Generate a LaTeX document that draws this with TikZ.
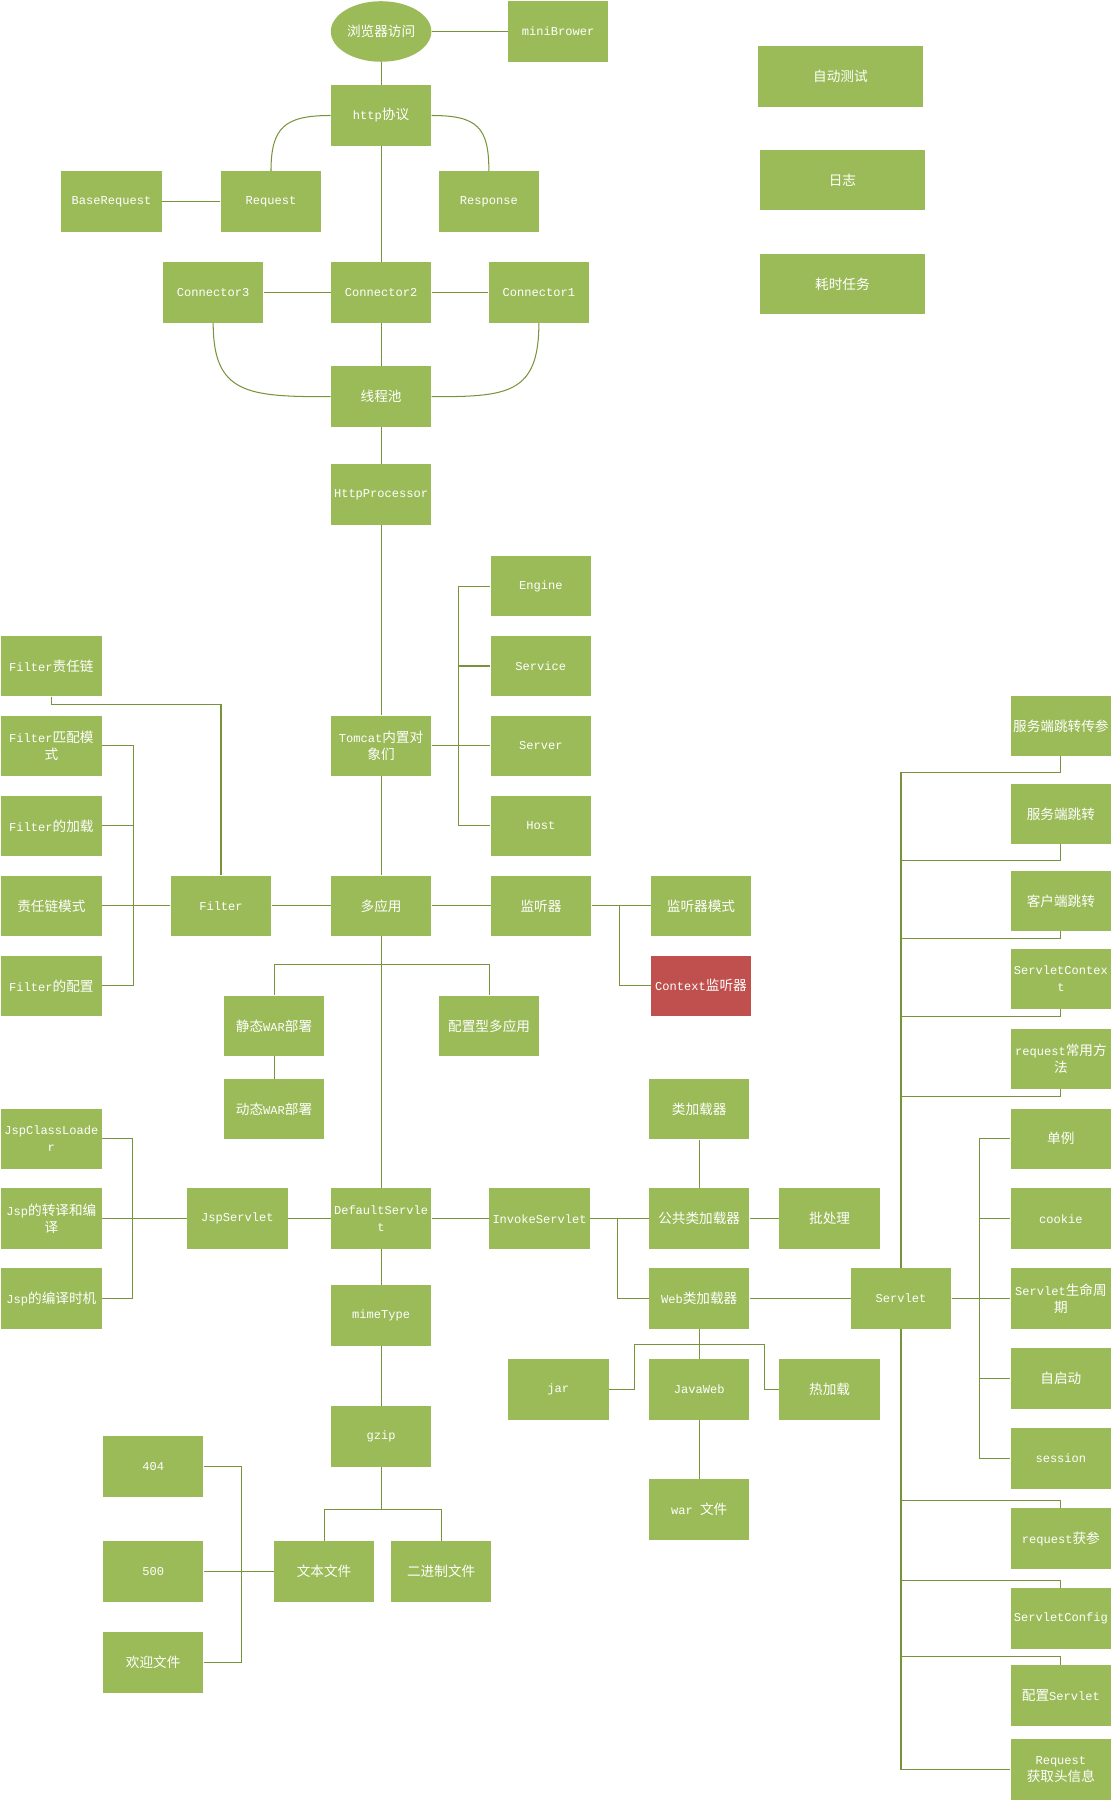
\documentclass[tikz,border=0pt]{standalone}
\usepackage{fontspec}
\setmainfont{Liberation Mono}
\newfontfamily\zhfont[Scale=1.13]{Noto Sans CJK SC}
\newcommand{\zh}[1]{{\zhfont #1}}
\usepackage{tikz}
\usetikzlibrary{shapes.geometric}
\definecolor{boxgreen}{HTML}{9BBB59}
\definecolor{boxred}{HTML}{C0504D}
\definecolor{linkgreen}{HTML}{77933C}

\begin{document}
\begin{tikzpicture}[x=1pt, y=-1pt,
        box/.style={rectangle, fill=boxgreen, text=white, minimum width=87.5pt, minimum height=52.7pt,
                inner sep=0pt, align=center, font=\fontsize{10.5}{14.5}\selectfont},
        widebox/.style={box, minimum width=144.2pt},
        hotbox/.style={box, fill=boxred},
        oval/.style={box, ellipse},
        link/.style={draw=linkgreen, line width=0.9pt}]
        \useasboundingbox (0,0) rectangle (968,1568);

        % top: browser and connectors
        \node[oval] (browser) at (331.6, 27.4) {\zh{浏览器访问}};
        \node[box] (mini) at (485.6, 27.4) {miniBrower};
        \node[box] (http) at (331.6, 100.5) {http\zh{协议}};
        \node[box] (basereq) at (97, 175.4) {BaseRequest};
        \node[box] (req) at (235.8, 175.4) {Request};
        \node[box] (resp) at (425.4, 175.4) {Response};
        \node[box] (conn3) at (185.5, 254.6) {Connector3};
        \node[box] (conn2) at (331.6, 254.6) {Connector2};
        \node[box] (conn1) at (468.9, 254.6) {Connector1};
        \node[box] (pool) at (331.6, 345.2) {\zh{线程池}};
        \node[box] (proc) at (331.6, 430.4) {HttpProcessor};

        \node[widebox] (autotest) at (731.3, 66.4) {\zh{自动测试}};
        \node[widebox] (log) at (733, 156.8) {\zh{日志}};
        \node[widebox] (longtask) at (733, 247.3) {\zh{耗时任务}};

        \draw[link] (browser) -- (mini);
        \draw[link] (browser) -- (http);
        \draw[link] (http) -- (conn2);
        \draw[link] (basereq) -- (req);
        \draw[link] (http.west) .. controls +(-40,0) and +(0,-38) .. (req.north);
        \draw[link] (http.east) .. controls +(40,0) and +(0,-38) .. (resp.north);
        \draw[link] (conn3) -- (conn2);
        \draw[link] (conn2) -- (conn1);
        \draw[link] (conn2) -- (pool);
        \draw[link] (conn3.south) .. controls +(0,62) and +(-72,0) .. (pool.west);
        \draw[link] (conn1.south) .. controls +(0,62) and +(66,0) .. (pool.east);
        \draw[link] (pool) -- (proc);

        % tomcat objects
        \node[box] (engine) at (470.6, 510) {Engine};
        \node[box] (service) at (470.6, 579.5) {Service};
        \node[box] (server) at (470.6, 649.1) {Server};
        \node[box] (host) at (470.6, 718.7) {Host};
        \node[box] (tomcat) at (331.6, 649.1) {Tomcat\zh{内置对}\\\zh{象们}};

        \draw[link] (proc) -- (tomcat);
        \draw[link] (tomcat.east) -- ++(23.7,0) |- (engine.west);
        \draw[link] (tomcat.east) -- ++(23.7,0) |- (service.west);
        \draw[link] (tomcat.east) -- (server.west);
        \draw[link] (tomcat.east) -- ++(23.7,0) |- (host.west);

        % filter
        \node[box] (fchain) at (44.7, 579.5) {Filter\zh{责任链}};
        \node[box] (fmatch) at (44.7, 649.1) {Filter\zh{匹配模}\\\zh{式}};
        \node[box] (fload) at (44.7, 718.7) {Filter\zh{的加载}};
        \node[box] (chainmode) at (44.7, 788.3) {\zh{责任链模式}};
        \node[box] (fconf) at (44.7, 857.8) {Filter\zh{的配置}};
        \node[box] (filter) at (192.3, 788.3) {Filter};
        \node[box] (multi) at (331.6, 788.3) {\zh{多应用}};

        \draw[link] (tomcat) -- (multi);
        \draw[link] (filter) -- (multi);
        \draw[link] (fchain.south) -- ++(0,6.6) -| (filter.north);
        \draw[link] (filter.west) -- ++(-32.6,0) |- (fmatch.east);
        \draw[link] (filter.west) -- ++(-32.6,0) |- (fload.east);
        \draw[link] (filter.west) -- (chainmode.east);
        \draw[link] (filter.west) -- ++(-32.6,0) |- (fconf.east);

        % listener
        \node[box] (listener) at (470.8, 788.3) {\zh{监听器}};
        \node[box] (lmode) at (610, 788.3) {\zh{监听器模式}};
        \node[hotbox] (ctxlisten) at (610, 857.8) {Context\zh{监听器}};

        \draw[link] (multi) -- (listener);
        \draw[link] (listener) -- (lmode);
        \draw[link] (listener.east) -- ++(24,0) |- (ctxlisten.west);

        % deployment
        \node[box] (staticwar) at (238.5, 892.6) {\zh{静态}WAR\zh{部署}};
        \node[box] (confmulti) at (425.6, 892.6) {\zh{配置型多应用}};
        \node[box] (dynwar) at (238.5, 965) {\zh{动态}WAR\zh{部署}};

        \draw[link] (multi.south) -- ++(0,24.2) -| (staticwar.north);
        \draw[link] (multi.south) -- ++(0,24.2) -| (confmulti.north);
        \draw[link] (staticwar) -- (dynwar);

        % servlets
        \node[box] (jspcl) at (44.7, 990.9) {JspClassLoade\\r};
        \node[box] (jsptrans) at (44.7, 1060.5) {Jsp\zh{的转译和编}\\\zh{译}};
        \node[box] (jsptime) at (44.7, 1130) {Jsp\zh{的编译时机}};
        \node[box] (jspservlet) at (206.5, 1060.5) {JspServlet};
        \node[box] (default) at (331.6, 1060.5) {DefaultServle\\t};
        \node[box] (invoke) at (469.5, 1060.5) {InvokeServlet};
        \node[box] (loader) at (608.4, 965) {\zh{类加载器}};
        \node[box] (commonload) at (608.4, 1060.5) {\zh{公共类加载器}};
        \node[box] (batch) at (721.9, 1060.5) {\zh{批处理}};
        \node[box] (webload) at (608.4, 1130) {Web\zh{类加载器}};
        \node[box] (servlet) at (784, 1130) {Servlet};

        \draw[link] (multi) -- (default);
        \draw[link] (jspservlet) -- (default);
        \draw[link] (default) -- (invoke);
        \draw[link] (jspservlet.west) -- ++(-47,0) |- (jspcl.east);
        \draw[link] (jspservlet.west) -- (jsptrans.east);
        \draw[link] (jspservlet.west) -- ++(-47,0) |- (jsptime.east);
        \draw[link] (invoke) -- (commonload);
        \draw[link] (invoke.east) -- ++(23.5,0) |- (webload.west);
        \draw[link] (loader) -- (commonload);
        \draw[link] (commonload) -- (batch);
        \draw[link] (webload) -- (servlet);

        % web class loader
        \node[box] (jar) at (485.8, 1209.2) {jar};
        \node[box] (javaweb) at (608.4, 1209.2) {JavaWeb};
        \node[box] (hotload) at (721.9, 1209.2) {\zh{热加载}};
        \node[box] (war) at (608.4, 1313.6) {war \zh{文件}};

        \draw[link] (webload) -- (javaweb);
        \draw[link] (webload.south) -- ++(0,13.4) -- ++(-56.7,0) |- (jar.east);
        \draw[link] (webload.south) -- ++(0,13.4) -- ++(56.4,0) |- (hotload.west);
        \draw[link] (javaweb) -- (war);

        % default servlet
        \node[box] (mime) at (331.6, 1144.8) {mimeType};
        \node[box] (gzip) at (331.6, 1250) {gzip};
        \node[box] (txtfile) at (282, 1367.5) {\zh{文本文件}};
        \node[box] (binfile) at (383.9, 1367.5) {\zh{二进制文件}};
        \node[box] (e404) at (133.3, 1276.2) {404};
        \node[box] (e500) at (133.3, 1367.5) {500};
        \node[box] (welcome) at (133.3, 1446.7) {\zh{欢迎文件}};

        \draw[link] (default) -- (mime);
        \draw[link] (mime) -- (gzip);
        \draw[link] (gzip.south) -- ++(0,37.1) -| (txtfile.north);
        \draw[link] (gzip.south) -- ++(0,37.1) -| (binfile.north);
        \draw[link] (txtfile.west) -- ++(-28.3,0) |- (e404.east);
        \draw[link] (txtfile.west) -- (e500.east);
        \draw[link] (txtfile.west) -- ++(-28.3,0) |- (welcome.east);

        % servlet topics
        \node[box] (fwdparam) at (923.1, 631.7) {\zh{服务端跳转传参}};
        \node[box] (fwd) at (923.1, 708.2) {\zh{服务端跳转}};
        \node[box] (redirect) at (923.1, 783.9) {\zh{客户端跳转}};
        \node[box] (ctx) at (923.1, 851.7) {ServletContex\\t};
        \node[box] (reqmethods) at (923.1, 921.3) {request\zh{常用方}\\\zh{法}};
        \node[box] (singleton) at (923.1, 990.9) {\zh{单例}};
        \node[box] (cookie) at (923.1, 1060.5) {cookie};
        \node[box] (lifecycle) at (923.1, 1130) {Servlet\zh{生命周}\\\zh{期}};
        \node[box] (autostart) at (923.1, 1199.7) {\zh{自启动}};
        \node[box] (session) at (923.1, 1269.2) {session};
        \node[box] (reqparam) at (923.1, 1338.8) {request\zh{获参}};
        \node[box] (config) at (923.1, 1408.4) {ServletConfig};
        \node[box] (confservlet) at (923.1, 1475.3) {\zh{配置}Servlet};
        \node[box] (reqhead) at (923.1, 1539.6) {Request\\\zh{获取头信息}};

        \draw[link] (fwdparam.south) -- ++(0,14) -| (servlet.north);
        \draw[link] (fwd.south) -- ++(0,14) -| (servlet.north);
        \draw[link] (redirect.south) -- ++(0,6.5) -| (servlet.north);
        \draw[link] (ctx.south) -- ++(0,6.5) -| (servlet.north);
        \draw[link] (reqmethods.south) -- ++(0,6.5) -| (servlet.north);
        \draw[link] (servlet.east) -- ++(24,0) |- (singleton.west);
        \draw[link] (servlet.east) -- ++(24,0) |- (cookie.west);
        \draw[link] (servlet.east) -- (lifecycle.west);
        \draw[link] (servlet.east) -- ++(24,0) |- (autostart.west);
        \draw[link] (servlet.east) -- ++(24,0) |- (session.west);
        \draw[link] (reqparam.north) -- ++(0,-6.7) -| (servlet.south);
        \draw[link] (config.north) -- ++(0,-6.7) -| (servlet.south);
        \draw[link] (confservlet.north) -- ++(0,-7) -| (servlet.south);
        \draw[link] (reqhead.west) -| (servlet.south);

\end{tikzpicture}
\end{document}
